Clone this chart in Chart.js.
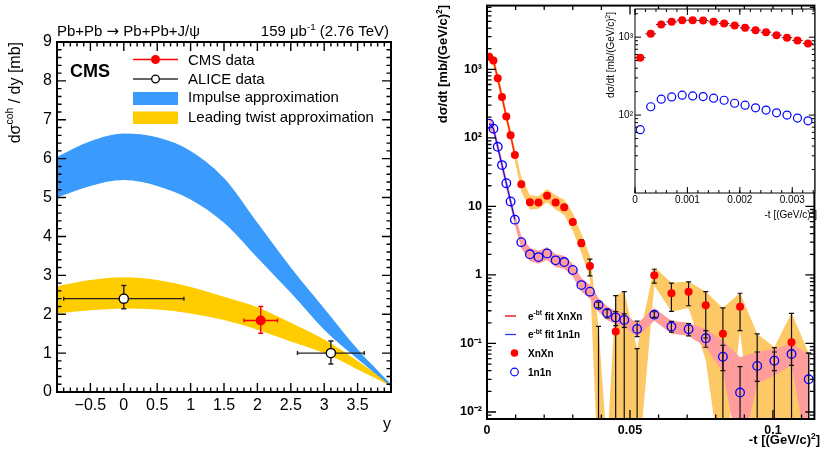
<!DOCTYPE html>
<html>
<head>
<meta charset="utf-8">
<script src="https://cdn.jsdelivr.net/npm/chart.js@4.4.1/dist/chart.umd.min.js"></script>
<style>
  body { margin: 0; background: #fff; }
  #wrap { position: relative; width: 820px; height: 455px; overflow: hidden; }
  canvas { position: absolute; top: 0; }
</style>
</head>
<body>
<div id="wrap">
  <canvas id="left" width="410" height="455" style="left:0"></canvas>
  <canvas id="right" width="410" height="455" style="left:410px"></canvas>
  <canvas id="inset" width="222" height="225" style="left:598px"></canvas>
</div>
<script>
const FONT = '"Liberation Sans", Arial, Helvetica, sans-serif';

// ---- left panel: dsigma/dy vs y
const rapidity  = [-1, -0.5, 0, 0.5, 1, 1.5, 2, 2.5, 3, 3.5, 4];
const impulseHi = [6.05, 6.45, 6.65, 6.55, 6.2, 5.5, 4.35, 3.2, 2.15, 1.1, 0.2];
const impulseLo = [5.0, 5.3, 5.45, 5.3, 4.95, 4.35, 3.45, 2.55, 1.6, 0.85, 0.15];
const twistHi   = [2.72, 2.88, 2.95, 2.88, 2.7, 2.45, 2.18, 1.78, 1.35, 0.8, 0.2];
const twistLo   = [2.02, 2.1, 2.15, 2.12, 2.02, 1.85, 1.6, 1.3, 1.0, 0.58, 0.15];

const cmsRap = [2.05], cmsXsec = [1.84];
const cmsRapLo = [1.8], cmsRapHi = [2.3];
const cmsErrLo = [1.51], cmsErrHi = [2.2];

const aliceRap = [0, 3.1], aliceXsec = [2.4, 1.0];
const aliceRapLo = [-0.9, 2.6], aliceRapHi = [0.9, 3.6];
const aliceErrLo = [2.14, 0.72], aliceErrHi = [2.74, 1.31];

const leftXTicks  = [-0.5, 0, 0.5, 1, 1.5, 2, 2.5, 3, 3.5];
const leftXLabels = ['\u22120.5', '0', '0.5', '1', '1.5', '2', '2.5', '3', '3.5'];
const leftYTicks  = [0, 1, 2, 3, 4, 5, 6, 7, 8, 9];

// ---- right panel: dsigma/dt vs -t
const tMain = [0.00075, 0.00225, 0.00375, 0.00525, 0.00675, 0.00825, 0.00975,
  0.012, 0.015, 0.018, 0.021, 0.024, 0.027, 0.030, 0.033, 0.036, 0.039, 0.042, 0.045, 0.048,
  0.0525, 0.0585, 0.0645, 0.0705, 0.0765, 0.0825, 0.0885, 0.0945, 0.1005, 0.1065, 0.1125];
const xnxn = [1520, 1340, 740, 395, 205, 109, 56, 21, 11.5, 11.4, 14.3, 11.4, 9.7, 5.9, 2.9, 1.35,
  null, null, 0.149, null, null, 0.99, 0.54, 0.57, 0.36, 0.138, 0.344, null, null, 0.104, null];
const xnxnErrHi = [null, null, null, null, null, null, null, null, null, null, null, null, null, null,
  3.25, 1.7, 0.178, null, 0.5, 0.57, 0.084, 1.21, 0.76, 0.79, 0.57, 0.33, 0.54, 0.138, 0.087, 0.275, 0.072];
const xnxnErrLo = [null, null, null, null, null, null, null, null, null, null, null, null, null, null,
  2.6, 0.97, 0.001, null, 0.001, 0.001, 0.001, 0.76, 0.294, 0.355, 0.12, 0.001, 0.154, 0.001, 0.001, 0.001, 0.001];
const xnxnBandHi = [1800, 1600, 880, 470, 245, 130, 68, 27, 14.5, 14, 18, 14.5, 12.5, 8, 4, 1.9,
  0.178, 0.003, 0.5, 0.58, 0.084, 1.3, 0.77, 0.8, 0.57, 0.33, 0.55, 0.138, 0.088, 0.28, 0.072];
const xnxnBandLo = [1270, 1120, 620, 330, 172, 92, 46, 16.5, 9, 9.2, 11.5, 9, 7.5, 4.4, 2.1, 0.9,
  0.001, 0.001, 0.001, 0.001, 0.001, 0.7, 0.29, 0.33, 0.057, 0.001, 0.154, 0.001, 0.001, 0.001, 0.001];

const n1n1 = [161, 136, 74, 40, 21.8, 11.8, 6.4, 3.0, 2.0, 1.82, 2.06, 1.63, 1.54, 1.18, 0.71, 0.57,
  0.364, 0.279, 0.24, 0.22, 0.163, 0.263, 0.176, 0.161, 0.119, 0.064, 0.0192, 0.047, 0.056, 0.07, 0.03];
const n1n1ErrHi = [null, null, null, null, null, null, null, null, null, null, null, null, null, null, null, null,
  0.40, 0.311, 0.291, 0.27, 0.211, 0.29, 0.21, 0.195, 0.154, 0.094, 0.046, 0.075, 0.075, 0.095, 0.072];
const n1n1ErrLo = [null, null, null, null, null, null, null, null, null, null, null, null, null, null, null, null,
  0.33, 0.236, 0.182, 0.172, 0.126, 0.24, 0.146, 0.129, 0.088, 0.04, 0.001, 0.028, 0.04, 0.048, 0.001];
const n1n1BandHi = [195, 165, 89, 48, 26, 14, 7.7, 3.7, 2.5, 2.25, 2.55, 2.0, 1.9, 1.45, 0.9, 0.72,
  0.46, 0.35, 0.3, 0.28, 0.195, 0.33, 0.215, 0.2, 0.163, 0.11, 0.063, 0.075, 0.084, 0.099, 0.071];
const n1n1BandLo = [133, 113, 62, 33, 18, 9.8, 5.3, 2.45, 1.6, 1.45, 1.65, 1.3, 1.23, 0.95, 0.57, 0.45,
  0.29, 0.22, 0.19, 0.175, 0.123, 0.215, 0.138, 0.13, 0.088, 0.038, 0.002, 0.026, 0.034, 0.048, 0.002];
const fitPoints = 7;

const rightXTicks  = [0, 0.05, 0.1];
const rightXLabels = ['0', '0.05', '0.1'];
const rightYTicks  = [0.01, 0.1, 1, 10, 100, 1000];
const rightYLabels = ['10\u207B\u00B2', '10\u207B\u00B9', '1', '10', '10\u00B2', '10\u00B3'];

// ---- inset: low -t region
const tInset = [0.0001, 0.0003, 0.0005, 0.0007, 0.0009, 0.0011, 0.0013, 0.0015, 0.0017,
  0.0019, 0.0021, 0.0023, 0.0025, 0.0027, 0.0029, 0.0031, 0.0033];
const xnxnInset = [546, 1105, 1452, 1573, 1649, 1649, 1633, 1573, 1496, 1410, 1318, 1228, 1158, 1061, 982, 908, 831];
const n1n1Inset = [65, 128, 160, 171, 180, 176, 173, 165, 155, 142, 134, 124, 116, 107, 100, 91.5, 84.5];
const insetHalfBin = 0.0001;
const insetXTicks  = [0, 0.001, 0.002, 0.003];
const insetXLabels = ['0', '0.001', '0.002', '0.003'];
const insetYTicks  = [100, 1000];
const insetYLabels = ['10\u00B2', '10\u00B3'];

// text with superscripts: parts = [[text, isSup, family], ...], y is the baseline
function rich(ctx, parts, x, y, size, weight, align) {
  ctx.textBaseline = 'alphabetic';
  ctx.textAlign = 'left';
  let w = 0;
  const segs = parts.map(p => {
    const s = p[1] ? size * 0.65 : size;
    const f = weight + ' ' + s + 'px ' + (p[2] || FONT);
    ctx.font = f;
    const m = ctx.measureText(p[0]).width;
    w += m;
    return { t: p[0], f: f, sup: p[1], m: m };
  });
  let cx = align === 'right' ? x - w : (align === 'center' ? x - w / 2 : x);
  segs.forEach(g => {
    ctx.font = g.f;
    ctx.fillText(g.t, cx, g.sup ? y - size * 0.42 : y);
    cx += g.m;
  });
}

function pts(xs, ys) { return xs.map((x, i) => ({ x: x, y: ys[i] })); }

function range(a, b, step) {
  const out = [];
  const n = Math.round((b - a) / step);
  for (let i = 0; i <= n; i++) out.push(+(a + i * step).toFixed(8));
  return out;
}
function logMinor(decades) {
  const out = [];
  decades.forEach(d => { for (let k = 2; k <= 9; k++) out.push(k * d); });
  return out;
}

// ROOT style frame with inward ticks on all four sides
function rootAxes(o) {
  return {
    id: 'rootAxes',
    afterDatasetsDraw(chart) {
      const ctx = chart.ctx, a = chart.chartArea;
      const xs = chart.scales.x, ys = chart.scales.y;
      ctx.save();
      ctx.strokeStyle = '#000';
      ctx.lineWidth = o.tickWidth;
      ctx.beginPath();
      const vx = (vals, len) => vals.forEach(v => {
        const p = xs.getPixelForValue(v);
        if (p < a.left - 0.5 || p > a.right + 0.5) return;
        ctx.moveTo(p, a.bottom); ctx.lineTo(p, a.bottom - len);
        ctx.moveTo(p, a.top); ctx.lineTo(p, a.top + len);
      });
      const vy = (vals, len) => vals.forEach(v => {
        const p = ys.getPixelForValue(v);
        if (p < a.top - 0.5 || p > a.bottom + 0.5) return;
        ctx.moveTo(a.left, p); ctx.lineTo(a.left + len, p);
        ctx.moveTo(a.right, p); ctx.lineTo(a.right - len, p);
      });
      vx(o.xMajor, o.major); vx(o.xMinor, o.minor);
      vy(o.yMajor, o.major); vy(o.yMinor, o.minor);
      ctx.stroke();
      ctx.lineWidth = o.frame;
      ctx.strokeRect(a.left, a.top, a.right - a.left, a.bottom - a.top);
      ctx.restore();
    }
  };
}

// error bars drawn just before the markers of the dataset that owns them
const errBars = {
  id: 'errBars',
  beforeDatasetDraw(chart, args) {
    const e = chart.data.datasets[args.index].errBars;
    if (!e) return;
    const ctx = chart.ctx, a = chart.chartArea;
    const xs = chart.scales.x, ys = chart.scales.y;
    ctx.save();
    ctx.beginPath();
    ctx.rect(a.left, a.top, a.right - a.left, a.bottom - a.top);
    ctx.clip();
    ctx.strokeStyle = e.color;
    ctx.lineWidth = e.width;
    ctx.beginPath();
    e.x.forEach((xv, i) => {
      const px = xs.getPixelForValue(xv);
      if (e.hi && e.hi[i] != null) {
        const y1 = ys.getPixelForValue(e.hi[i]), y2 = ys.getPixelForValue(e.lo[i]);
        ctx.moveTo(px, y1); ctx.lineTo(px, y2);
        if (e.cap) {
          ctx.moveTo(px - e.cap, y1); ctx.lineTo(px + e.cap, y1);
          ctx.moveTo(px - e.cap, y2); ctx.lineTo(px + e.cap, y2);
        }
      }
      if (e.xlo) {
        const py = ys.getPixelForValue(e.y[i]);
        const x1 = xs.getPixelForValue(e.xlo[i]), x2 = xs.getPixelForValue(e.xhi[i]);
        ctx.moveTo(x1, py); ctx.lineTo(x2, py);
        if (e.xcap) {
          ctx.moveTo(x1, py - e.xcap); ctx.lineTo(x1, py + e.xcap);
          ctx.moveTo(x2, py - e.xcap); ctx.lineTo(x2, py + e.xcap);
        }
      }
    });
    ctx.stroke();
    ctx.restore();
  }
};

function axis(type, min, max, ticks, labels, font, pad, fit) {
  return {
    type: type, min: min, max: max,
    grid: { display: false, drawTicks: false },
    border: { display: false },
    ticks: {
      autoSkip: false, maxRotation: 0, padding: pad, color: '#000', font: font,
      callback: (v, i) => labels[i]
    },
    afterBuildTicks: s => { s.ticks = ticks.map(v => ({ value: v })); },
    afterFit: s => {
      if (fit.w != null) s.width = fit.w;
      if (fit.h != null) s.height = fit.h;
      // keep the plot frame where the padding puts it
      s.paddingTop = 0; s.paddingBottom = 0; s.paddingLeft = 0; s.paddingRight = 0;
    }
  };
}

function band(data, color, fill, smooth) {
  return {
    data: data, borderWidth: 0, borderColor: 'rgba(0,0,0,0)', pointRadius: 0,
    backgroundColor: color, fill: fill,
    cubicInterpolationMode: smooth ? 'monotone' : 'default', tension: 0
  };
}

const baseOpts = {
  responsive: false, animation: false, events: [],
  plugins: { legend: { display: false }, tooltip: { enabled: false } }
};

// ================= left chart =================
const BLUE = '#3a9bfd', GOLD = '#ffcc00';
const leftDeco = {
  id: 'leftDeco',
  afterDraw(chart) {
    const ctx = chart.ctx;
    ctx.save();
    ctx.fillStyle = '#000';
    rich(ctx, [['Pb+Pb '], ['\u2192', 0, '"DejaVu Sans", sans-serif'], [' Pb+Pb+J/\u03C8']], 57, 36, 15, 'normal', 'left');
    rich(ctx, [['159 \u03BCb'], ['-1', 1], [' (2.76 TeV)']], 389, 36, 15, 'normal', 'right');
    rich(ctx, [['CMS']], 70, 77, 18, 'bold', 'left');

    // legend
    ctx.lineWidth = 1.5;
    ctx.strokeStyle = '#ff0000';
    ctx.beginPath(); ctx.moveTo(133, 59.5); ctx.lineTo(178, 59.5); ctx.stroke();
    ctx.fillStyle = '#ff0000';
    ctx.beginPath(); ctx.arc(155.5, 59.5, 4.5, 0, 2 * Math.PI); ctx.fill();
    ctx.strokeStyle = '#333';
    ctx.beginPath(); ctx.moveTo(133, 79); ctx.lineTo(178, 79); ctx.stroke();
    ctx.fillStyle = '#fff'; ctx.lineWidth = 1.3; ctx.strokeStyle = '#000';
    ctx.beginPath(); ctx.arc(155.5, 79, 3.8, 0, 2 * Math.PI); ctx.fill(); ctx.stroke();
    ctx.fillStyle = BLUE; ctx.fillRect(133, 92, 45, 13);
    ctx.fillStyle = GOLD; ctx.fillRect(133, 111.5, 45, 12.5);
    ctx.fillStyle = '#000';
    rich(ctx, [['CMS data']], 188, 65, 15, 'normal', 'left');
    rich(ctx, [['ALICE data']], 188, 84, 15, 'normal', 'left');
    rich(ctx, [['Impulse approximation']], 188, 102, 15, 'normal', 'left');
    rich(ctx, [['Leading twist approximation']], 188, 122, 15, 'normal', 'left');

    // axis titles
    rich(ctx, [['y']], 391, 429, 16, 'normal', 'right');
    ctx.translate(20, 42);
    ctx.rotate(-Math.PI / 2);
    rich(ctx, [['d\u03C3'], ['coh', 1], [' / dy [mb]']], 0, 0, 16, 'normal', 'right');
    ctx.restore();
  }
};

new Chart(document.getElementById('left'), {
  type: 'line',
  data: {
    datasets: [
      Object.assign(band(pts(rapidity, twistHi), GOLD, '+1', true), { order: 6 }),
      Object.assign(band(pts(rapidity, twistLo), GOLD, false, true), { order: 6 }),
      Object.assign(band(pts(rapidity, impulseHi), BLUE, '+1', true), { order: 4 }),
      Object.assign(band(pts(rapidity, impulseLo), BLUE, false, true), { order: 4 }),
      {
        data: pts(aliceRap, aliceXsec), showLine: false, fill: false, order: 1,
        pointRadius: 4.6, pointBackgroundColor: '#fff', pointBorderColor: '#000', pointBorderWidth: 1.4,
        errBars: { x: aliceRap, y: aliceXsec, hi: aliceErrHi, lo: aliceErrLo, xlo: aliceRapLo, xhi: aliceRapHi,
          color: '#222', width: 1.4, cap: 2.5, xcap: 2 }
      },
      {
        data: pts(cmsRap, cmsXsec), showLine: false, fill: false, order: 0,
        pointRadius: 5, pointBackgroundColor: '#ff0000', pointBorderColor: '#ff0000', pointBorderWidth: 0,
        errBars: { x: cmsRap, y: cmsXsec, hi: cmsErrHi, lo: cmsErrLo, xlo: cmsRapLo, xhi: cmsRapHi,
          color: '#ff0000', width: 1.4, cap: 2.5, xcap: 2 }
      }
    ]
  },
  options: Object.assign({}, baseOpts, {
    layout: { padding: { left: 0, top: 42, right: 19, bottom: 0 } },
    scales: {
      x: axis('linear', -1, 4, leftXTicks, leftXLabels, { family: FONT, size: 16 }, 4, { h: 63 }),
      y: axis('linear', 0, 9, leftYTicks, leftYTicks.map(String), { family: FONT, size: 16 }, 5, { w: 57 })
    }
  }),
  plugins: [errBars, rootAxes({
    xMajor: range(-1, 4, 0.5), xMinor: range(-1, 4, 0.1),
    yMajor: range(0, 9, 1), yMinor: range(0, 9, 0.2),
    major: 9, minor: 4.5, tickWidth: 1.4, frame: 2
  }), leftDeco]
});

// ================= right chart =================
const ORANGE = '#fdc866', PINK = '#ff9c9c', RED = '#ff0000', NAVY = '#0000ff';
const rightDeco = {
  id: 'rightDeco',
  afterDraw(chart) {
    const ctx = chart.ctx;
    ctx.save();
    ctx.fillStyle = '#000';
    rich(ctx, [['-t [(GeV/c)'], ['2', 1], [']']], 410, 444, 13, 'bold', 'right');

    // legend
    ctx.lineWidth = 1.3;
    ctx.strokeStyle = '#e00000';
    ctx.beginPath(); ctx.moveTo(95, 316); ctx.lineTo(106, 316); ctx.stroke();
    ctx.strokeStyle = '#3030ff';
    ctx.beginPath(); ctx.moveTo(95, 334.5); ctx.lineTo(106, 334.5); ctx.stroke();
    ctx.fillStyle = RED;
    ctx.beginPath(); ctx.arc(104.5, 353, 3.8, 0, 2 * Math.PI); ctx.fill();
    ctx.strokeStyle = NAVY; ctx.lineWidth = 1.2;
    ctx.beginPath(); ctx.arc(104.5, 372, 3.8, 0, 2 * Math.PI); ctx.stroke();
    ctx.fillStyle = '#000';
    rich(ctx, [['e'], ['-bt', 1], [' fit XnXn']], 118, 319.5, 10, 'bold', 'left');
    rich(ctx, [['e'], ['-bt', 1], [' fit 1n1n']], 118, 338, 10, 'bold', 'left');
    rich(ctx, [['XnXn']], 118, 356.5, 10, 'bold', 'left');
    rich(ctx, [['1n1n']], 118, 375.5, 10, 'bold', 'left');

    ctx.translate(37, 5);
    ctx.rotate(-Math.PI / 2);
    rich(ctx, [['d\u03C3/dt [mb/(GeV/c)'], ['2', 1], [']']], 0, 0, 13, 'bold', 'right');
    ctx.restore();
  }
};

new Chart(document.getElementById('right'), {
  type: 'line',
  data: {
    datasets: [
      Object.assign(band(pts(tMain, xnxnBandHi), ORANGE, '+1', false), { order: 7 }),
      Object.assign(band(pts(tMain, xnxnBandLo), ORANGE, false, false), { order: 7 }),
      Object.assign(band(pts(tMain, n1n1BandHi), PINK, '+1', false), { order: 6 }),
      Object.assign(band(pts(tMain, n1n1BandLo), PINK, false, false), { order: 6 }),
      {
        data: pts(tMain.slice(0, fitPoints), xnxn.slice(0, fitPoints)), order: 3, fill: false,
        borderColor: '#ff2a00', borderWidth: 1.6, pointRadius: 0, tension: 0
      },
      {
        data: pts(tMain.slice(0, fitPoints), n1n1.slice(0, fitPoints)), order: 3, fill: false,
        borderColor: '#1010ff', borderWidth: 1.3, pointRadius: 0, tension: 0
      },
      {
        data: pts(tMain, n1n1), showLine: false, fill: false, order: 1,
        pointRadius: 4.3, pointBackgroundColor: 'rgba(0,0,0,0)', pointBorderColor: NAVY, pointBorderWidth: 1.3,
        errBars: { x: tMain, hi: n1n1ErrHi, lo: n1n1ErrLo, color: '#111', width: 1.2, cap: 2.5 }
      },
      {
        data: pts(tMain, xnxn), showLine: false, fill: false, order: 0,
        pointRadius: 4, pointBackgroundColor: RED, pointBorderColor: RED, pointBorderWidth: 0,
        errBars: { x: tMain, hi: xnxnErrHi, lo: xnxnErrLo, color: '#111', width: 1.2, cap: 2.5 }
      }
    ]
  },
  options: Object.assign({}, baseOpts, {
    layout: { padding: { left: 0, top: 3, right: 1, bottom: 0 } },
    scales: {
      x: axis('linear', 0, 0.1145, rightXTicks, rightXLabels, { family: FONT, size: 12.5, weight: 'bold' }, 4, { h: 36 }),
      y: axis('logarithmic', 0.0079, 8500, rightYTicks, rightYLabels, { family: FONT, size: 12.5, weight: 'bold' }, 5, { w: 77 })
    }
  }),
  plugins: [errBars, rootAxes({
    xMajor: rightXTicks, xMinor: range(0, 0.11, 0.01),
    yMajor: rightYTicks, yMinor: logMinor([0.001, 0.01, 0.1, 1, 10, 100, 1000]),
    major: 9, minor: 4.5, tickWidth: 1.3, frame: 2
  }), rightDeco]
});

// ================= inset =================
const insetDeco = {
  id: 'insetDeco',
  beforeDraw(chart) {
    const a = chart.chartArea, ctx = chart.ctx;
    ctx.save();
    ctx.fillStyle = '#fff';
    ctx.fillRect(a.left, a.top, a.right - a.left, a.bottom - a.top);
    ctx.restore();
  },
  afterDraw(chart) {
    const ctx = chart.ctx;
    ctx.save();
    ctx.fillStyle = '#000';
    rich(ctx, [['-t [(GeV/c)'], ['2', 1], [']']], 219, 218, 10, 'normal', 'right');
    ctx.translate(16, 12);
    ctx.rotate(-Math.PI / 2);
    rich(ctx, [['d\u03C3/dt [mb/(GeV/c)'], ['2', 1], [']']], 0, 0, 10, 'normal', 'right');
    ctx.restore();
  }
};

new Chart(document.getElementById('inset'), {
  type: 'line',
  data: {
    datasets: [
      {
        data: pts(tInset, n1n1Inset), showLine: false, fill: false, order: 1,
        pointRadius: 4, pointBackgroundColor: 'rgba(0,0,0,0)', pointBorderColor: NAVY, pointBorderWidth: 1.2
      },
      {
        data: pts(tInset, xnxnInset), showLine: false, fill: false, order: 0,
        pointRadius: 4, pointBackgroundColor: RED, pointBorderColor: RED, pointBorderWidth: 0,
        errBars: { x: tInset, y: xnxnInset,
          xlo: tInset.map(t => t - insetHalfBin), xhi: tInset.map(t => t + insetHalfBin),
          color: '#1a1a6e', width: 1 }
      }
    ]
  },
  options: Object.assign({}, baseOpts, {
    layout: { padding: { left: 0, top: 9, right: 4, bottom: 0 } },
    scales: {
      x: axis('linear', 0, 0.00343, insetXTicks, insetXLabels, { family: FONT, size: 10 }, 1, { h: 32 }),
      y: axis('logarithmic', 10, 2300, insetYTicks, insetYLabels, { family: FONT, size: 10 }, 2, { w: 37 })
    }
  }),
  plugins: [insetDeco, errBars, rootAxes({
    xMajor: insetXTicks, xMinor: range(0, 0.0034, 0.0002),
    yMajor: insetYTicks, yMinor: logMinor([10, 100, 1000]),
    major: 6, minor: 3, tickWidth: 1, frame: 1
  })]
});
</script>
</body>
</html>
